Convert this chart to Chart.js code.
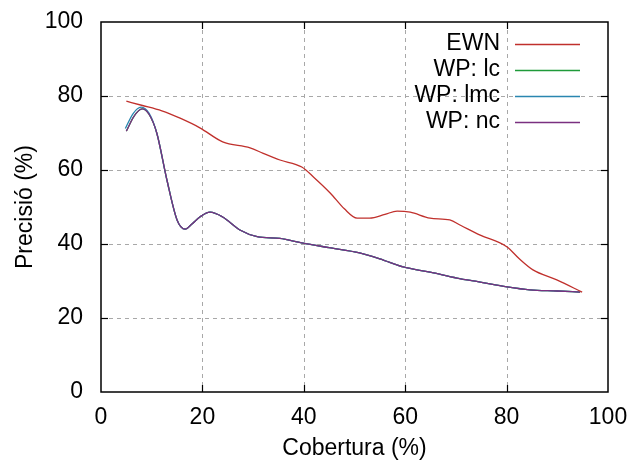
<!DOCTYPE html>
<html><head><meta charset="utf-8">
<script src="https://cdn.jsdelivr.net/npm/chart.js@4/dist/chart.umd.min.js"></script>
<style>html,body{margin:0;padding:0;background:#fff}#wrap{width:636px;height:462px}</style>
</head><body><div id="wrap"><canvas id="c" width="636" height="462"></canvas></div>
<script>
const seriesNames = ["EWN", "WP: lc", "WP: lmc", "WP: nc"];
const xTicks = [0, 20, 40, 60, 80, 100];
const yTicks = [0, 20, 40, 60, 80, 100];

const ewnX = [5, 8, 12, 15.6, 19.5, 24, 29.4, 32, 35.3, 39.6, 42, 45.2, 48, 50.5, 53, 56, 58.4, 61, 64.9, 68.8, 71, 74.8, 80.1, 82.5, 85.2, 89.9, 94.9];
const ewnY = [78.6, 77.5, 76, 74, 71.4, 67.6, 66, 64.5, 62.7, 60.8, 58, 53.8, 49.5, 47, 47, 48, 48.9, 48.6, 47, 46.5, 45, 42.4, 39.2, 36, 33, 30.3, 27];

const lcX = [5, 6.5, 8.1, 9.5, 11, 13, 15, 16.6, 18, 19.5, 21.5, 24, 27.4, 30.8, 35.3, 39.6, 45, 51, 55, 59.6, 64.9, 70.2, 74.8, 80.1, 84.6, 90, 94.5];
const lcY = [70.5, 74.5, 76.5, 75, 70, 57.3, 46.5, 44, 45.5, 47.3, 48.6, 47.3, 43.8, 42, 41.5, 40.3, 39, 37.6, 36, 33.8, 32.4, 30.8, 29.7, 28.4, 27.6, 27.3, 27];

const lmcX = [4.8, 6.3, 7.9, 9.5, 11, 13, 15, 16.6, 18, 19.5, 21.5, 24, 27.4, 30.8, 35.3, 39.6, 45, 51, 55, 59.6, 64.9, 70.2, 74.8, 80.1, 84.6, 90, 94.5];
const lmcY = [71.2, 75.2, 77, 75.3, 70, 57.3, 46.5, 44, 45.5, 47.3, 48.6, 47.3, 43.8, 42, 41.5, 40.3, 39, 37.6, 36, 33.8, 32.4, 30.8, 29.7, 28.4, 27.6, 27.3, 27];

const ncX = [5, 6.5, 8.1, 9.5, 11, 13, 15, 16.6, 18, 19.5, 21.5, 24, 27.4, 30.8, 35.3, 39.6, 45, 51, 55, 59.6, 64.9, 70.2, 74.8, 80.1, 84.6, 90, 94.5];
const ncY = [70.5, 74.5, 76.5, 75, 70, 57.3, 46.5, 44, 45.5, 47.3, 48.6, 47.3, 43.8, 42, 41.5, 40.3, 39, 37.6, 36, 33.8, 32.4, 30.8, 29.7, 28.4, 27.6, 27.3, 27];

const colors = ["#c0302c", "#1f9a3a", "#2a86b0", "#7a3080"];
const FONT = "'Liberation Sans', Arial, sans-serif";

function pts(xs, ys) { return xs.map((x, i) => ({x: x, y: ys[i]})); }

const datasets = [
  {label: seriesNames[0], data: pts(ewnX, ewnY), borderColor: colors[0], order: 0},
  {label: seriesNames[1], data: pts(lcX, lcY), borderColor: colors[1], order: 3},
  {label: seriesNames[2], data: pts(lmcX, lmcY), borderColor: colors[2], order: 2},
  {label: seriesNames[3], data: pts(ncX, ncY), borderColor: colors[3], order: 1}
].map(d => Object.assign(d, {borderWidth: 1.3, pointRadius: 0, fill: false, cubicInterpolationMode: 'monotone'}));

const framePlugin = {
  id: 'frame',
  beforeDatasetsDraw(chart) {
    const {ctx, chartArea: a, scales} = chart;
    ctx.save();
    ctx.strokeStyle = '#a8a8a8';
    ctx.lineWidth = 1;
    ctx.setLineDash([4, 4]);
    xTicks.slice(1, -1).forEach(v => {
      const px = Math.round(scales.x.getPixelForValue(v)) + 0.5;
      ctx.beginPath(); ctx.moveTo(px, a.top); ctx.lineTo(px, a.bottom); ctx.stroke();
    });
    yTicks.slice(1, -1).forEach(v => {
      const py = Math.round(scales.y.getPixelForValue(v)) + 0.5;
      ctx.beginPath(); ctx.moveTo(a.left, py); ctx.lineTo(a.right, py); ctx.stroke();
    });
    ctx.restore();
  },
  afterDraw(chart) {
    const {ctx, chartArea: a, scales} = chart;
    ctx.save();
    ctx.strokeStyle = '#000';
    ctx.lineWidth = 1.5;
    ctx.setLineDash([]);
    ctx.strokeRect(a.left, a.top, a.right - a.left, a.bottom - a.top);
    ctx.lineWidth = 1.2;
    const t = 7;
    xTicks.slice(1, -1).forEach(v => {
      const px = Math.round(scales.x.getPixelForValue(v)) + 0.5;
      ctx.beginPath(); ctx.moveTo(px, a.bottom); ctx.lineTo(px, a.bottom - t); ctx.stroke();
      ctx.beginPath(); ctx.moveTo(px, a.top); ctx.lineTo(px, a.top + t); ctx.stroke();
    });
    yTicks.slice(1, -1).forEach(v => {
      const py = Math.round(scales.y.getPixelForValue(v)) + 0.5;
      ctx.beginPath(); ctx.moveTo(a.left, py); ctx.lineTo(a.left + t, py); ctx.stroke();
      ctx.beginPath(); ctx.moveTo(a.right, py); ctx.lineTo(a.right - t, py); ctx.stroke();
    });
    // legend
    ctx.font = '23px ' + FONT;
    ctx.textAlign = 'right';
    ctx.textBaseline = 'middle';
    const rows = [44, 70, 96, 122];
    chart.data.datasets.forEach((d, i) => {
      ctx.fillStyle = '#000';
      ctx.fillText(d.label, 500, rows[i]);
      ctx.strokeStyle = d.borderColor;
      ctx.lineWidth = 1.3;
      ctx.beginPath(); ctx.moveTo(515, rows[i] + 0.5); ctx.lineTo(580, rows[i] + 0.5); ctx.stroke();
    });
    ctx.restore();
  }
};

new Chart(document.getElementById('c'), {
  type: 'line',
  data: {datasets: datasets},
  options: {
    responsive: false,
    animation: false,
    events: [],
    layout: {padding: {top: 22, right: 28, left: 0, bottom: 0}},
    plugins: {legend: {display: false}, tooltip: {enabled: false}},
    scales: {
      x: {
        type: 'linear', min: 0, max: 100,
        afterBuildTicks(s) { s.ticks = xTicks.map(v => ({value: v})); },
        afterFit(s) { s.height = 70; s.paddingLeft = 0; s.paddingRight = 0; },
        grid: {display: false, drawTicks: false},
        border: {display: false},
        ticks: {color: '#000', font: {family: FONT, size: 23}, padding: 12, maxRotation: 0},
        title: {display: true, text: 'Cobertura (%)', color: '#000', font: {family: FONT, size: 23}, padding: {top: 0, bottom: 0}}
      },
      y: {
        type: 'linear', min: 0, max: 100,
        afterBuildTicks(s) { s.ticks = yTicks.map(v => ({value: v})); },
        afterFit(s) { s.width = 101; s.paddingTop = 0; s.paddingBottom = 0; },
        grid: {display: false, drawTicks: false},
        border: {display: false},
        ticks: {color: '#000', font: {family: FONT, size: 23}, padding: 18},
        title: {display: true, text: 'Precisió (%)', color: '#000', font: {family: FONT, size: 23}, padding: {top: 12, bottom: 4}}
      }
    }
  },
  plugins: [framePlugin]
});
</script>
</body></html>
